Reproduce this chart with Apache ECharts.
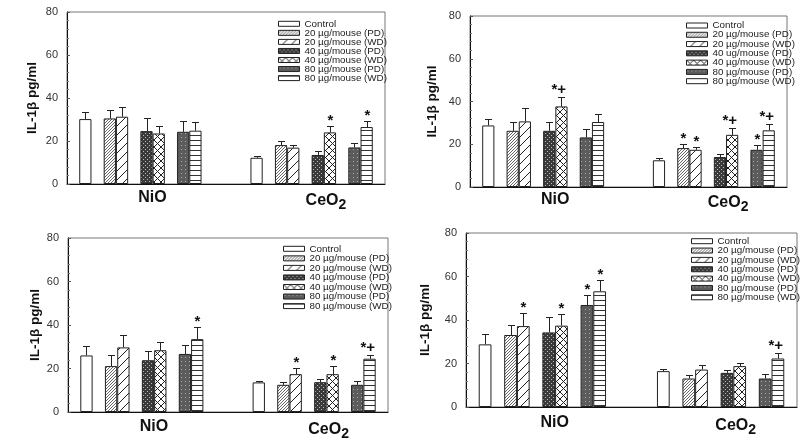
<!DOCTYPE html>
<html><head><meta charset="utf-8">
<script src="https://cdn.jsdelivr.net/npm/echarts@6/dist/echarts.min.js"></script>
<style>html,body{margin:0;padding:0;background:#fff}#c{width:800px;height:441px}</style>
</head><body><div id="c"></div>
<script>
// ---------- data ----------
const seriesNames = ['Control','20 µg/mouse (PD)','20 µg/mouse (WD)','40 µg/mouse (PD)','40 µg/mouse (WD)','80 µg/mouse (PD)','80 µg/mouse (WD)'];
const groupLabels = ['NiO','CeO2'];
const yTicks = [0,20,40,60,80];
const yTitle = 'IL-1β pg/ml';

// panel A (top-left)
const aNiO     = [30.2,30.5,31.3,24.6,23.5,24.3,24.8];
const aNiOErr  = [3.1,3.9,4.3,5.9,3.6,4.9,4.1];
const aNiOSig  = ['','','','','','',''];
const aCeO2    = [12.2,18.1,16.9,13.5,24.0,17.0,26.5];
const aCeO2Err = [1.0,2.0,1.2,2.0,3.1,1.9,2.9];
const aCeO2Sig = ['','','','','*','','*'];

// panel B (top-right)
const bNiO     = [28.8,26.3,30.7,26.3,37.7,23.2,30.4];
const bNiOErr  = [3.0,4.1,6.2,4.1,4.6,3.9,3.7];
const bNiOSig  = ['','','','','*+','',''];
const bCeO2    = [12.5,18.2,17.4,14.0,24.4,17.4,26.5];
const bCeO2Err = [1.0,2.0,1.1,1.6,3.1,2.1,2.9];
const bCeO2Sig = ['','*','*','','*+','*','*+'];

// panel C (bottom-left)
const cNiO     = [26.0,21.1,29.7,23.8,28.4,26.7,33.5];
const cNiOErr  = [4.5,4.9,5.8,4.1,3.6,3.9,5.4];
const cNiOSig  = ['','','','','','','*'];
const cCeO2    = [13.6,12.5,17.4,13.7,17.4,12.5,24.5];
const cCeO2Err = [0.7,1.2,2.7,1.4,3.7,1.8,1.6];
const cCeO2Sig = ['','','*','','*','','*+'];

// panel D (bottom-right)
const dNiO     = [28.8,33.1,37.2,34.3,37.4,46.9,53.2];
const dNiOErr  = [4.6,4.6,5.9,6.9,5.2,4.6,5.2];
const dNiOSig  = ['','','*','','*','*','*'];
const dCeO2    = [16.5,13.1,17.2,15.7,18.8,13.1,22.3];
const dCeO2Err = [1.2,1.5,2.0,1.5,1.5,2.0,2.3];
const dCeO2Sig = ['','','','','','','*+'];

const panels = [
  {vals:[aNiO,aCeO2], errs:[aNiOErr,aCeO2Err], sigs:[aNiOSig,aCeO2Sig]},
  {vals:[bNiO,bCeO2], errs:[bNiOErr,bCeO2Err], sigs:[bNiOSig,bCeO2Sig]},
  {vals:[cNiO,cCeO2], errs:[cNiOErr,cCeO2Err], sigs:[cNiOSig,cCeO2Sig]},
  {vals:[dNiO,dCeO2], errs:[dNiOErr,dCeO2Err], sigs:[dNiOSig,dCeO2Sig]}
];

// ---------- layout ----------
const nSlots = 26;
const barSlots = [1,3,4,6,7,9,10];
const groupOffset = [0,14];
const labelSlots = [6,21];
const grids = [
  {left:67, top:12, width:318, height:172},
  {left:470, top:16, width:317, height:171},
  {left:68, top:238, width:320, height:177},
  {left:466, top:233, width:331, height:174}
];
const nameGaps = [28,31,26,34];
const labelMargins = [6,5,7,8];
const legendPos = [
  {left:278, top:18.8, gap:-0.95},
  {left:686, top:20.5, gap:-0.72},
  {left:283, top:243.8, gap:-0.45},
  {left:691, top:236.2, gap:-0.65}
];
const FONT = 'Liberation Sans, Arial, sans-serif';

// ---------- patterns ----------
function pat(w, h, draw) {
  const c = document.createElement('canvas');
  c.width = w; c.height = h;
  const g = c.getContext('2d');
  g.fillStyle = '#fff'; g.fillRect(0,0,w,h);
  draw(g, w, h);
  return {image: c, repeat: 'repeat'};
}
function diag(g, w, h, col, lw) {
  g.strokeStyle = col; g.lineWidth = lw;
  for (let k = -1; k <= 1; k++) { g.beginPath(); g.moveTo(k*w, h); g.lineTo(k*w + w, 0); g.stroke(); }
}
function diag2(g, w, h, col, lw) {
  g.strokeStyle = col; g.lineWidth = lw;
  for (let k = -1; k <= 1; k++) { g.beginPath(); g.moveTo(k*w, 0); g.lineTo(k*w + w, h); g.stroke(); }
}
const fills = [
  '#ffffff',
  pat(3,3,(g,w,h)=>diag(g,w,h,'#666',1)),
  pat(9,9,(g,w,h)=>diag(g,w,h,'#222',1)),
  pat(4,4,(g)=>{g.fillStyle='#3a3a3a';g.fillRect(0,0,4,4);g.fillStyle='#bbb';g.fillRect(1,1,1,1);g.fillRect(3,3,1,1);}),
  pat(7,7,(g,w,h)=>{diag(g,w,h,'#222',1);diag2(g,w,h,'#222',1);}),
  pat(4,4,(g)=>{g.fillStyle='#5c5c5c';g.fillRect(0,0,4,4);g.fillStyle='#aaa';g.fillRect(1,1,1,1);}),
  pat(5,5,(g)=>{g.fillStyle='#333';g.fillRect(0,0,5,1);})
];

// ---------- build option ----------
const cats = [];
for (let i = 0; i < nSlots; i++) cats.push(i === labelSlots[0] ? groupLabels[0] : i === labelSlots[1] ? groupLabels[1] : '');

const option = {
  animation: false,
  backgroundColor: '#fff',
  grid: grids.map(g => Object.assign({show:true, borderColor:'#777', borderWidth:1, backgroundColor:'transparent'}, g)),
  xAxis: grids.map((g, p) => ({
    type: 'category', gridIndex: p, data: cats,
    axisLine: {lineStyle:{color:'#111', width:1}},
    axisTick: {show:false},
    axisLabel: {
      interval: 0, margin: labelMargins[p], color: '#111',
      formatter: v => v === 'NiO' ? '{n|NiO}' : v === 'CeO2' ? '{c|CeO}{s|2}' : '',
      rich: {
        n: {fontFamily: FONT, fontWeight:'bold', fontSize:16, color:'#111', padding:[0,0,0,12]},
        c: {fontFamily: FONT, fontWeight:'bold', fontSize:16, color:'#111', padding:[0,0,0,0]},
        s: {fontFamily: FONT, fontWeight:'bold', fontSize:14, color:'#111', padding:[8,8,0,0]}
      }
    },
    splitLine: {show:false}
  })),
  yAxis: grids.map((g, p) => ({
    type: 'value', gridIndex: p, min: yTicks[0], max: yTicks[yTicks.length-1], interval: yTicks[1]-yTicks[0],
    name: yTitle, nameLocation: 'middle', nameRotate: 90, nameGap: nameGaps[p],
    nameTextStyle: {fontFamily: FONT, fontWeight:'bold', fontSize:13.5, color:'#111'},
    axisLine: {show:true, lineStyle:{color:'#111', width:1}},
    axisTick: {show:true, inside:true, length:3, lineStyle:{color:'#555'}},
    minorTick: {show:true, splitNumber:5, length:2, lineStyle:{color:'#777'}},
    axisLabel: {fontFamily: FONT, fontSize:11, color:'#333', margin:9},
    splitLine: {show:false}
  })),
  legend: legendPos.map((lp, p) => ({
    orient: 'vertical', left: lp.left, top: lp.top, padding: 0,
    itemWidth: 21, itemHeight: 5, itemGap: lp.gap, icon: 'rect',
    selectedMode: false,
    data: seriesNames.map((n, i) => (p === 1 && i === 6) ? {name:n, itemStyle:{color:'#fff'}} : n),
    formatter: p === 1 ? (n => n === seriesNames[3] ? n.replace('µg','ug') : n) : undefined,
    itemStyle: {borderColor:'#222', borderWidth:1},
    textStyle: {fontFamily: FONT, fontSize:9.8, lineHeight:9, color:'#222'}
  })),
  series: []
};

panels.forEach((pn, p) => {
  seriesNames.forEach((name, s) => {
    const arr = new Array(nSlots).fill('-');
    for (let gi = 0; gi < 2; gi++) arr[barSlots[s] + groupOffset[gi]] = pn.vals[gi][s];
    option.series.push({
      type: 'bar', name, xAxisIndex: p, yAxisIndex: p, data: arr,
      barGap: '-100%', barCategoryGap: '0%',
      itemStyle: {color: fills[s], borderColor:'#222', borderWidth:1},
      silent: true
    });
  });
  const data = [], sigs = [];
  for (let gi = 0; gi < 2; gi++) for (let s = 0; s < 7; s++) {
    data.push([barSlots[s] + groupOffset[gi], pn.vals[gi][s], pn.errs[gi][s]]);
    sigs.push(pn.sigs[gi][s]);
  }
  option.series.push({
    type: 'custom', name: 'err' + p, xAxisIndex: p, yAxisIndex: p, z: 10, silent: true,
    data, encode: {x: 0, y: [1, 2]},
    renderItem: (params, api) => {
      const x = api.value(0), v = api.value(1), e = api.value(2);
      const b = api.coord([x, v]), t = api.coord([x, v + e]);
      const cx = Math.round(b[0]) + 0.5, ty = Math.round(t[1]) + 0.5;
      const ch = [
        {type:'line', shape:{x1:cx, y1:b[1], x2:cx, y2:ty}, style:{stroke:'#222', lineWidth:1}},
        {type:'line', shape:{x1:cx-3.5, y1:ty, x2:cx+3.5, y2:ty}, style:{stroke:'#222', lineWidth:1}}
      ];
      const sg = sigs[params.dataIndex];
      if (sg) {
        const two = sg.length > 1;
        ch.push({type:'text', style:{
          text: sg, x: two ? cx + 4.5 : cx, y: two ? ty - 7.5 : ty - 6,
          align: two ? 'right' : 'center', verticalAlign: 'middle',
          font: 'bold 15px ' + FONT, fill: '#111'
        }});
      }
      return {type:'group', children: ch};
    }
  });
});

const chart = echarts.init(document.getElementById('c'), null, {renderer:'canvas'});
chart.setOption(option);
</script></body></html>
